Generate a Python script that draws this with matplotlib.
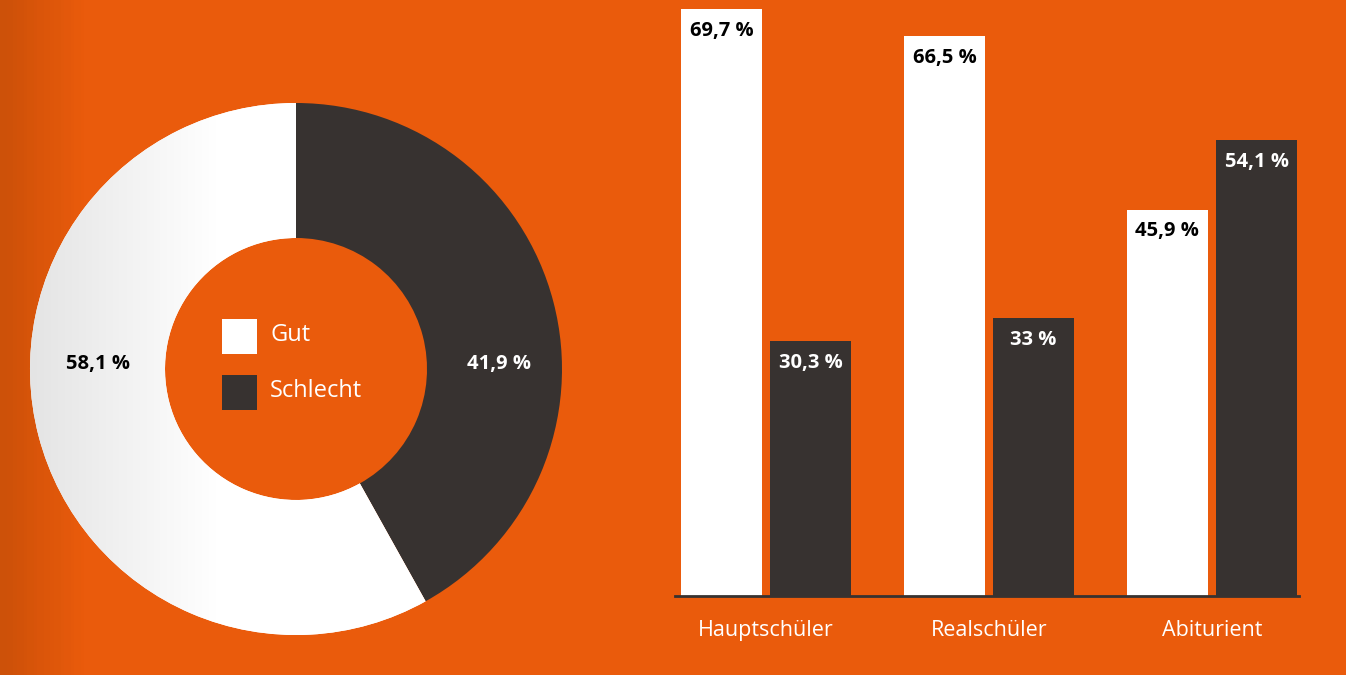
import numpy as np
import matplotlib.pyplot as plt
from matplotlib.colors import LinearSegmentedColormap

# Data
donut_labels = ['Gut', 'Schlecht']
donut_values = [58.1, 41.9]
categories = ['Hauptschüler', 'Realschüler', 'Abiturient']
gut_values = [69.7, 66.5, 45.9]
schlecht_values = [30.3, 33.0, 54.1]

orange = '#ea5b0c'
dark = '#373230'
W, H = 1360, 675

plt.rcParams['font.family'] = ['Open Sans', 'DejaVu Sans']

fig = plt.figure(figsize=(W / 100, H / 100), dpi=100, facecolor='white')

# background with darker left edge
bg = fig.add_axes([0, 0, 1346 / W, 1])
bg_cmap = LinearSegmentedColormap.from_list('bg', [(0, '#cd5109'), (0.06, orange), (1, orange)])
bg.imshow(np.linspace(0, 1, 400)[None, :], cmap=bg_cmap, aspect='auto', extent=[0, 1, 0, 1])
bg.set_xlim(0, 1)
bg.set_ylim(0, 1)
bg.axis('off')

def fmt(v):
    s = f'{v:.1f}'.replace('.', ',')
    if s.endswith(',0'):
        s = s[:-2]
    return s + ' %'

# donut
cx, cy, size = 296, 369, 560
pax = fig.add_axes([(cx - size / 2) / W, (H - cy - size / 2) / H, size / W, size / H])
pax.set_xlim(-280, 280)
pax.set_ylim(-280, 280)
pax.set_aspect('equal')
pax.axis('off')
wedges, _ = pax.pie(donut_values[::-1], radius=266, startangle=90, counterclock=False,
                    colors=[dark, 'white'], wedgeprops=dict(width=135, linewidth=0))
grad_cmap = LinearSegmentedColormap.from_list('g', ['#e4e4e4', '#ffffff'])
im = pax.imshow(np.linspace(0, 1, 200)[None, :], cmap=grad_cmap, aspect='auto',
                extent=[-266, -80, -266, 266], zorder=2)
im.set_clip_path(wedges[1])
rect = plt.Rectangle((-80, -266), 346, 532, color='white', zorder=2, lw=0)
pax.add_patch(rect)
rect.set_clip_path(wedges[1])
pax.set_xlim(-280, 280)
pax.set_ylim(-280, 280)
pax.text(-198, 5, fmt(donut_values[0]), ha='center', va='center', fontsize=14.5,
         fontweight='bold', color='black', zorder=5)
pax.text(203, 5, fmt(donut_values[1]), ha='center', va='center', fontsize=14.5,
         fontweight='bold', color='white', zorder=5)
# legend in centre
for i, (lab, col) in enumerate(zip(donut_labels, ['white', dark])):
    y = 33 - i * 56
    pax.add_patch(plt.Rectangle((-74, y - 18), 35, 35, facecolor=col, lw=0, zorder=5))
    pax.text(-26, y + 1, lab, ha='left', va='center', fontsize=17, color='white', zorder=5)

# bars
base, top = 596, 596 - 70 * 8.42
left, right = 675, 1299
bax = fig.add_axes([left / W, (H - base) / H, (right - left) / W, (base - top) / H])
bax.patch.set_alpha(0)
x = np.arange(len(categories))
bw, off = 0.363, 0.2
ux = 223
bax.set_xlim(-(766 - left) / ux, 2 + (right - 1212) / ux)
bax.set_ylim(0, 70)
b1 = bax.bar(x - off, gut_values, bw, color='white', lw=0)
b2 = bax.bar(x + off, schlecht_values, bw, color=dark, lw=0)
for xi, v in zip(x, gut_values):
    bax.text(xi - off, v - 2.6, fmt(v), ha='center', va='center', fontsize=14.5,
             fontweight='bold', color='black')
for xi, v in zip(x, schlecht_values):
    bax.text(xi + off, v - 2.6, fmt(v), ha='center', va='center', fontsize=14.5,
             fontweight='bold', color='white')
for s in ['top', 'right', 'left']:
    bax.spines[s].set_visible(False)
bax.spines['bottom'].set_color(dark)
bax.spines['bottom'].set_linewidth(2)
bax.set_yticks([])
bax.set_xticks(x, categories)
bax.tick_params(axis='x', length=0, pad=17, labelsize=15.5, labelcolor='white')

fig.savefig('out.png', dpi=100, facecolor=fig.get_facecolor())
